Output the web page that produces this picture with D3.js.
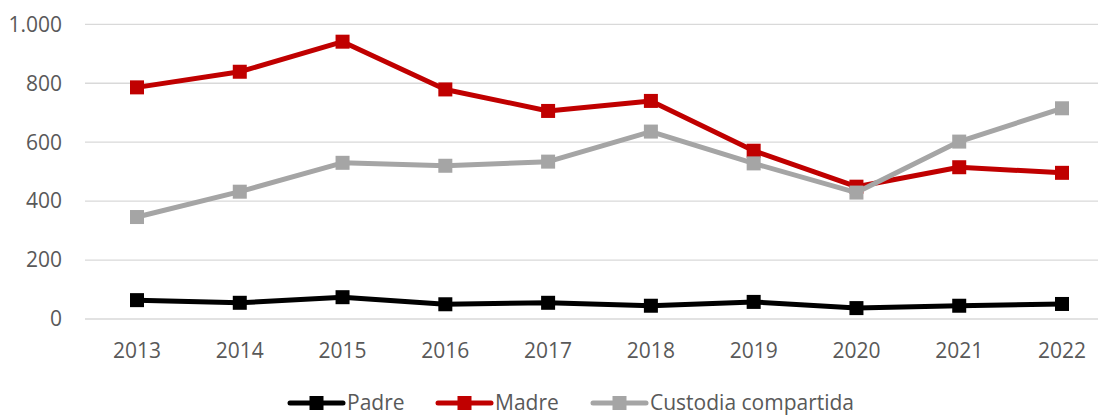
<!DOCTYPE html>
<html>
<head>
<meta charset="utf-8">
<script src="https://cdn.jsdelivr.net/npm/d3@7"></script>
<style>
  body { margin: 0; background: #fff; }
  svg text { font-family: "Open Sans", sans-serif; fill: #595959; }
</style>
</head>
<body>
<svg id="chart"></svg>
<script>
// datos
const years = ['2013','2014','2015','2016','2017','2018','2019','2020','2021','2022'];
const padre = [64, 55, 74, 50, 55, 45, 58, 37, 45, 51];
const madre = [786, 839, 941, 779, 706, 740, 571, 449, 515, 496];
const custodia = [346, 432, 530, 520, 534, 636, 528, 429, 602, 715];
const yTicks = [0, 200, 400, 600, 800, 1000];

const series = [
  {name: 'Padre', values: padre, color: '#000000'},
  {name: 'Madre', values: madre, color: '#c00000'},
  {name: 'Custodia compartida', values: custodia, color: '#a5a5a5'}
];

const width = 1098;
const height = 415;

const svg = d3.select('#chart')
  .attr('width', width)
  .attr('height', height);

const x = d3.scalePoint()
  .domain(years)
  .range([137, 1062]);

const y = d3.scaleLinear()
  .domain([0, 1000])
  .range([319, 24.3]);

const fmt = d => d3.format(',')(d).replace(/,/g, '.');

// grid
svg.append('g')
  .selectAll('line')
  .data(yTicks)
  .enter()
  .append('line')
  .attr('x1', 85)
  .attr('x2', 1098)
  .attr('y1', d => y(d))
  .attr('y2', d => y(d))
  .attr('stroke', '#d9d9d9')
  .attr('stroke-width', 1.3);

// y labels
svg.append('g')
  .selectAll('text')
  .data(yTicks)
  .enter()
  .append('text')
  .attr('x', 62)
  .attr('y', d => y(d))
  .attr('dy', '0.35em')
  .attr('text-anchor', 'end')
  .style('font-size', '21px')
  .text(fmt);

// x labels
svg.append('g')
  .selectAll('text')
  .data(years)
  .enter()
  .append('text')
  .attr('x', d => x(d))
  .attr('y', 351)
  .attr('dy', '0.35em')
  .attr('text-anchor', 'middle')
  .style('font-size', '21px')
  .text(d => d);

const line = d3.line()
  .x((d, i) => x(years[i]))
  .y(d => y(d));

const ms = 14;
series.forEach(s => {
  const g = svg.append('g');
  g.append('path')
    .attr('d', line(s.values))
    .attr('fill', 'none')
    .attr('stroke', s.color)
    .attr('stroke-width', 5)
    .attr('stroke-linejoin', 'round');
  g.selectAll('rect')
    .data(s.values)
    .enter()
    .append('rect')
    .attr('x', (d, i) => x(years[i]) - ms / 2)
    .attr('y', d => y(d) - ms / 2)
    .attr('width', ms)
    .attr('height', ms)
    .attr('fill', s.color);
});

// legend
const legendX = [290, 438, 593];
const leg = svg.append('g');
series.forEach((s, i) => {
  const lx = legendX[i];
  leg.append('line')
    .attr('x1', lx).attr('x2', lx + 53)
    .attr('y1', 403).attr('y2', 403)
    .attr('stroke', s.color)
    .attr('stroke-width', 5)
    .attr('stroke-linecap', 'round');
  leg.append('rect')
    .attr('x', lx + 26.5 - 7).attr('y', 403 - 7)
    .attr('width', 14).attr('height', 14)
    .attr('fill', s.color);
  leg.append('text')
    .attr('x', lx + 57)
    .attr('y', 403)
    .attr('dy', '0.35em')
    .style('font-size', '21px')
    .text(s.name);
});
</script>
</body>
</html>
